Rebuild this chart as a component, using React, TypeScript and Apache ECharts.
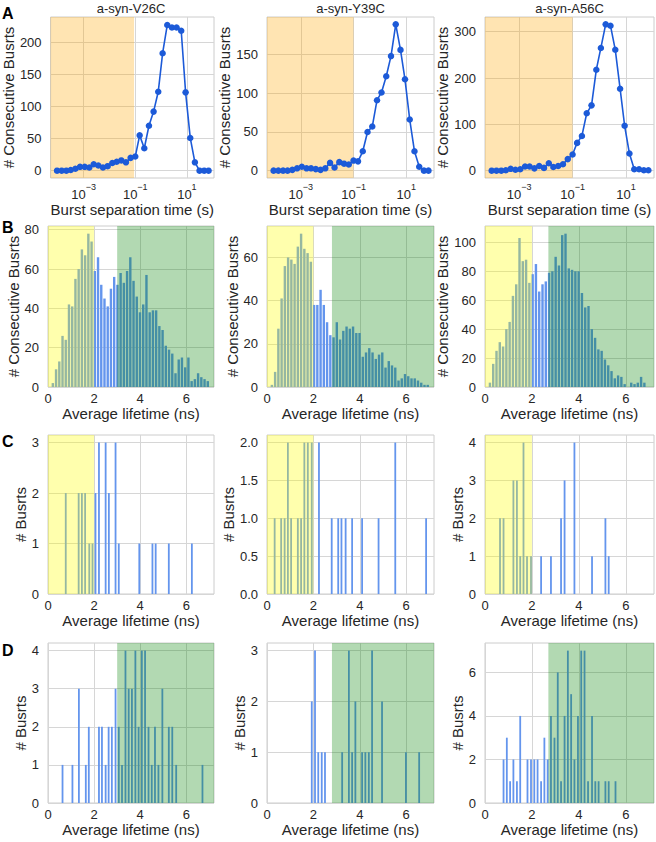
import React, { useEffect, useRef } from 'react';
import * as echarts from 'echarts';

const FONT = 'Liberation Sans, Arial, Helvetica, sans-serif';
const TXT = '#262626';
const GRIDC = '#d6d6d6';
const LINE_BLUE = '#1c5ad8';
const BAR_BLUE = '#6495ed';
const ORANGE = 'rgba(255,165,0,0.3)';
const YELLOW = 'rgba(255,255,0,0.32)';
const GREEN = 'rgba(0,128,0,0.3)';

// ---------- Row A: burst separation time (log10 of seconds) ----------
const proteins = ['a-syn-V26C', 'a-syn-Y39C', 'a-syn-A56C'];
const sepExponents = [-4.03, -3.85, -3.67, -3.5, -3.32, -3.14, -2.96, -2.78, -2.61, -2.43, -2.25, -2.07, -1.89, -1.72, -1.54, -1.36, -1.18, -1.0, -0.83, -0.65, -0.47, -0.29, -0.11, 0.06, 0.24, 0.42, 0.6, 0.78, 0.95, 1.13, 1.31, 1.49, 1.67, 1.84];
const sepV26C = [0, 0, 0, 1, 3, 6, 6, 5, 10, 8, 5, 7, 12, 14, 16, 13, 20, 22, 55, 35, 70, 92, 123, 183, 227, 223, 223, 218, 122, 51, 13, 0, 0, 0];
const sepY39C = [0, 0, 0, 0, 1, 3, 5, 3, 3, 2, 1, 3, 10, 4, 11, 9, 8, 13, 12, 25, 50, 57, 91, 101, 122, 148, 189, 156, 118, 66, 25, 5, 0, 0];
const sepA56C = [0, 0, 0, 1, 4, 2, 3, 9, 9, 5, 10, 6, 16, 8, 10, 14, 25, 35, 60, 75, 124, 141, 218, 265, 316, 313, 261, 177, 97, 37, 3, 3, 1, 1];
const sepThreshold = [0.09, 0.1, 0.1]; // seconds, end of orange region
const xTicksSep = [-3, -1, 1];
const yTicksA = [[0, 50, 100, 150, 200], [0, 50, 100, 150], [0, 100, 200, 300]];

// ---------- Row B: lifetime histograms ----------
const lifeBins = [0.07, 0.21, 0.35, 0.49, 0.63, 0.77, 0.91, 1.05, 1.19, 1.33, 1.47, 1.61, 1.75, 1.89, 2.03, 2.17, 2.31, 2.45, 2.59, 2.73, 2.87, 3.01, 3.15, 3.29, 3.43, 3.57, 3.71, 3.85, 3.99, 4.13, 4.27, 4.41, 4.55, 4.69, 4.83, 4.97, 5.11, 5.25, 5.39, 5.53, 5.67, 5.81, 5.95, 6.09, 6.23, 6.37, 6.51, 6.65, 6.79, 6.93];
const histV26C = [0, 2, 9, 13, 26, 24, 42, 41, 55, 60, 70, 67, 78, 74, 59, 66, 52, 45, 41, 50, 56, 52, 58, 53, 59, 66, 54, 46, 38, 42, 57, 38, 39, 39, 31, 29, 21, 19, 17, 7, 14, 15, 10, 15, 3, 4, 7, 5, 4, 3];
const histY39C = [0, 1, 7, 27, 41, 56, 60, 59, 57, 65, 71, 64, 62, 58, 38, 38, 45, 38, 30, 24, 23, 30, 22, 26, 28, 27, 28, 25, 25, 14, 16, 18, 16, 13, 15, 16, 9, 12, 10, 9, 3, 4, 6, 5, 4, 4, 3, 2, 1, 1];
const histA56C = [0, 3, 16, 25, 31, 28, 40, 45, 63, 71, 103, 87, 88, 72, 78, 85, 66, 71, 73, 79, 80, 90, 84, 105, 106, 82, 81, 80, 80, 65, 55, 56, 40, 34, 26, 25, 19, 15, 11, 6, 8, 7, 2, 0, 3, 2, 3, 7, 3, 0];
const yTicksB = [[0, 20, 40, 60, 80], [0, 20, 40, 60], [0, 20, 40, 60, 80, 100]];
const greenStart = [3.0, 2.8, 2.7];
const yellowEnd = [2.0, 2.0, 2.0];

// ---------- Row C: bursts in the short-lifetime class ----------
const cV26Cx = [0.77, 1.33, 1.47, 1.61, 1.79, 1.93, 2.06, 2.21, 2.5, 2.64, 2.93, 3.07, 3.96, 4.53, 4.67, 5.24, 6.24];
const cV26Cy = [2, 2, 2, 2, 1, 1, 2, 3, 3, 2, 3, 1, 1, 1, 1, 1, 1];
const cY39Cx = [0.33, 0.61, 0.76, 0.9, 1.04, 1.33, 1.47, 1.61, 1.76, 1.93, 2.24, 2.79, 3.07, 3.21, 3.39, 3.67, 4.1, 4.81, 5.53, 6.86];
const cY39Cy = [1, 1, 1, 2, 1, 1, 1, 2, 2, 2, 2, 1, 1, 1, 1, 1, 1, 1, 2, 1];
const cA56Cx = [0.64, 0.79, 1.21, 1.36, 1.5, 1.64, 1.79, 1.96, 2.39, 2.81, 3.24, 3.39, 3.81, 4.56, 5.13, 5.27];
const cA56Cy = [2, 2, 3, 3, 1, 4, 1, 1, 1, 1, 2, 3, 4, 1, 2, 1];
const yTicksC = [[0, 1, 2, 3], [0, 0.5, 1, 1.5, 2], [0, 1, 2, 3, 4]];

// ---------- Row D: bursts in the long-lifetime class ----------
const dV26Cx = [0.63, 1.06, 1.34, 1.64, 1.77, 2.21, 2.34, 2.5, 2.63, 2.77, 2.93, 3.07, 3.21, 3.36, 3.5, 3.64, 3.79, 3.93, 4.07, 4.21, 4.36, 4.5, 4.64, 4.79, 4.96, 5.24, 5.39, 5.56, 6.7];
const dV26Cy = [1, 1, 3, 1, 2, 2, 2, 1, 2, 2, 3, 2, 1, 4, 3, 3, 4, 2, 4, 4, 2, 1, 2, 1, 3, 2, 2, 1, 1];
const dY39Cx = [1.93, 2.07, 2.21, 2.36, 2.5, 3.24, 3.53, 3.67, 3.81, 4.1, 4.24, 4.39, 4.53, 4.96, 5.99, 6.56];
const dY39Cy = [2, 3, 1, 1, 1, 1, 3, 1, 2, 1, 1, 1, 3, 2, 1, 1];
const dA56Cx = [0.79, 0.93, 1.07, 1.21, 1.36, 1.5, 1.81, 1.96, 2.1, 2.24, 2.39, 2.53, 2.67, 2.81, 2.96, 3.1, 3.24, 3.39, 3.53, 3.67, 3.81, 3.96, 4.1, 4.24, 4.39, 4.56, 4.7, 4.84, 5.13, 5.27, 5.56];
const dA56Cy = [2, 3, 1, 2, 1, 4, 2, 2, 2, 2, 1, 3, 2, 4, 3, 6, 1, 4, 7, 5, 2, 4, 7, 7, 1, 4, 1, 1, 1, 1, 1];
const yTicksD = [[0, 1, 2, 3, 4], [0, 1, 2, 3], [0, 2, 4, 6]];
const xTicksLife = [0, 2, 4, 6];

// ---------- layout ----------
const colLeft = [48, 267, 485];
const colWidth = [166, 167, 169];
const rowTop = [17, 226, 435, 643];
const rowHeight = [161, 161, 159, 160];
const yNameGap = [[31, 31, 30], [26, 25, 30], [18, 28, 18], [18, 19, 19]];
const letters = ['A', 'B', 'C', 'D'];

function buildOption() {
  const grid: any[] = [];
  const xAxis: any[] = [];
  const yAxis: any[] = [];
  const series: any[] = [];
  const graphic: any[] = [];

  const spanSeries = (gi: number, x0: number, x1: number, color: string, z: number) => ({
    type: 'custom',
    xAxisIndex: gi,
    yAxisIndex: gi,
    silent: true,
    z,
    data: [[x0, x1]],
    renderItem: (params: any, api: any) => {
      const cs = params.coordSys;
      const a = api.coord([api.value(0), 0])[0];
      const b = api.coord([api.value(1), 0])[0];
      const left = Math.max(cs.x, Math.min(a, b));
      const right = Math.min(cs.x + cs.width, Math.max(a, b));
      return {
        type: 'rect',
        shape: { x: left, y: cs.y, width: right - left, height: cs.height },
        style: { fill: color },
      };
    },
  });

  const baseAxis = {
    axisLine: { show: false },
    nameTextStyle: { fontFamily: FONT, fontSize: 15, color: TXT },
    splitLine: { show: true, lineStyle: { color: GRIDC, width: 1 } },
  };

  const sepMin = -4.28;
  const sepMax = 2.05;
  const sepData = [sepV26C, sepY39C, sepA56C];
  const histData = [histV26C, histY39C, histA56C];
  const cData = [[cV26Cx, cV26Cy], [cY39Cx, cY39Cy], [cA56Cx, cA56Cy]];
  const dData = [[dV26Cx, dV26Cy], [dY39Cx, dY39Cy], [dA56Cx, dA56Cy]];
  const yRanges = [
    [[-11.4, 239.4], [-9.5, 198.5], [-15.8, 331.8]],
    [[0, 81.9], [0, 74.55], [0, 111.3]],
    [[0, 3.15], [0, 2.1], [0, 4.2]],
    [[0, 4.2], [0, 3.15], [0, 7.35]],
  ];
  const yTicks = [yTicksA, yTicksB, yTicksC, yTicksD];

  for (let r = 0; r < 4; r++) {
    for (let c = 0; c < 3; c++) {
      const gi = r * 3 + c;
      grid.push({
        left: colLeft[c],
        top: rowTop[r],
        width: colWidth[c],
        height: rowHeight[r],
        show: true,
        borderColor: '#cccccc',
        borderWidth: 1,
        backgroundColor: 'transparent',
      });
      const isSep = r === 0;
      xAxis.push({
        ...baseAxis,
        type: 'value',
        gridIndex: gi,
        min: isSep ? sepMin : 0,
        max: isSep ? sepMax : 7.2,
        name: isSep ? 'Burst separation time (s)' : 'Average lifetime (ns)',
        nameLocation: 'middle',
        nameGap: isSep ? 24 : 19,
        axisTick: { show: false, customValues: isSep ? xTicksSep : xTicksLife },
        axisLabel: isSep
          ? {
              customValues: xTicksSep,
              margin: 4,
              formatter: (v: number) => `{b|10}{s|${v < 0 ? '\u2212' : ''}${Math.abs(v)}}`,
              rich: {
                b: { fontFamily: FONT, fontSize: 13, color: TXT, lineHeight: 19, verticalAlign: 'bottom' },
                s: { fontFamily: FONT, fontSize: 9, color: TXT, lineHeight: 10, verticalAlign: 'top' },
              },
            }
          : {
              customValues: xTicksLife,
              margin: 5,
              fontFamily: FONT,
              fontSize: 13,
              color: TXT,
            },
      });
      const ticks = yTicks[r][c];
      yAxis.push({
        ...baseAxis,
        type: 'value',
        gridIndex: gi,
        min: yRanges[r][c][0],
        max: yRanges[r][c][1],
        name: r < 2 ? '# Consecutive Busrts' : '# Busrts',
        nameLocation: 'middle',
        nameGap: yNameGap[r][c],
        axisTick: { show: false, customValues: ticks },
        axisLabel: {
          customValues: ticks,
          margin: 9,
          fontFamily: FONT,
          fontSize: 13,
          color: TXT,
          formatter: r === 2 && c === 1 ? (v: number) => v.toFixed(1) : (v: number) => String(v),
        },
      });

      if (r === 0) {
        series.push(spanSeries(gi, sepMin, Math.log10(sepThreshold[c]), ORANGE, 1));
        series.push({
          type: 'line',
          xAxisIndex: gi,
          yAxisIndex: gi,
          z: 3,
          data: sepExponents.map((e, i) => [e, sepData[c][i]]),
          symbol: 'circle',
          symbolSize: 6.5,
          lineStyle: { color: LINE_BLUE, width: 1.6 },
          itemStyle: { color: LINE_BLUE },
        });
      } else if (r === 1) {
        series.push({
          type: 'bar',
          xAxisIndex: gi,
          yAxisIndex: gi,
          z: 2,
          barWidth: 2.4,
          data: lifeBins.map((b, i) => [b, histData[c][i]]),
          itemStyle: { color: BAR_BLUE },
        });
        series.push(spanSeries(gi, 0, yellowEnd[c], YELLOW, 4));
        series.push(spanSeries(gi, greenStart[c], 7.2, GREEN, 4));
      } else {
        const d = r === 2 ? cData[c] : dData[c];
        series.push({
          type: 'bar',
          xAxisIndex: gi,
          yAxisIndex: gi,
          z: 2,
          barWidth: 1.8,
          data: d[0].map((x, i) => [x, d[1][i]]),
          itemStyle: { color: BAR_BLUE },
        });
        if (r === 2) series.push(spanSeries(gi, 0, yellowEnd[c], YELLOW, 4));
        else series.push(spanSeries(gi, greenStart[c], 7.2, GREEN, 4));
      }

      if (r === 0) {
        graphic.push({
          type: 'text',
          x: colLeft[c] + colWidth[c] / 2,
          y: 8,
          style: {
            text: proteins[c],
            fontFamily: FONT,
            fontSize: 13,
            fill: TXT,
            textAlign: 'center',
            textVerticalAlign: 'middle',
          },
        });
      }
    }
    graphic.push({
      type: 'text',
      x: 2,
      y: [13, 227, 441, 650][r],
      style: {
        text: letters[r],
        fontFamily: FONT,
        fontSize: 16,
        fontWeight: 'bold',
        fill: '#000',
        textAlign: 'left',
        textVerticalAlign: 'middle',
      },
    });
  }

  return {
    animation: false,
    backgroundColor: '#ffffff',
    textStyle: { fontFamily: FONT },
    grid,
    xAxis,
    yAxis,
    series,
    graphic,
  };
}

export default function App() {
  const ref = useRef<HTMLDivElement>(null);
  useEffect(() => {
    const chart = echarts.init(ref.current as HTMLDivElement, null, { renderer: 'svg' });
    chart.setOption(buildOption() as any);
    return () => chart.dispose();
  }, []);
  return (
    <div
      ref={ref}
      style={{ position: 'absolute', left: 0, top: 0, width: 656, height: 842, background: '#ffffff' }}
    />
  );
}
